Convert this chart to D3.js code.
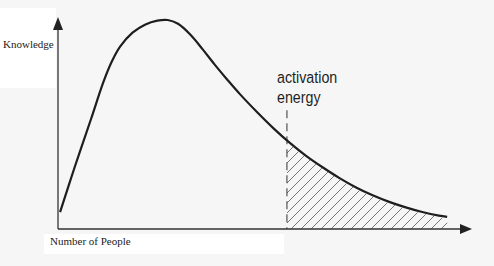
<!DOCTYPE html>
<html><head><meta charset="utf-8">
<script src="https://cdn.jsdelivr.net/npm/d3@7"></script>
<style>html,body{margin:0;padding:0;background:#f6f6f6;}svg{display:block;}</style>
</head><body>
<script>
// Data (x: people, y: knowledge)
const peopleX = [0.5,4,8,11,13,15,18,21,24,26.5,29,32,35,38,41,44,48,52,56,60,64,68,72,76,80,84,88,92,94];
const knowledgeY = [8,29,52,69.5,79,86,92.6,96.4,98.3,98.6,96.8,91.6,84.6,77.2,70.2,63.5,55.3,47.6,40.6,34.4,29.0,24.0,19.6,15.9,12.8,10.2,8.0,6.3,5.7];
const activationX = 55.3;
const activationTop = 56;
const xLabel = "Number of People";
const yLabel = "Knowledge";
const annotation = ["activation", "energy"];

const W = 494, H = 266;
const svg = d3.select("body").append("svg").attr("width", W).attr("height", H);
const x = d3.scaleLinear().domain([0, 100]).range([58, 472]);
const y = d3.scaleLinear().domain([0, 100]).range([229, 17]);

// paper patches
svg.append("rect").attr("x",0).attr("y",0).attr("width",W).attr("height",H).attr("fill","#f6f6f6");
svg.append("rect").attr("x",0).attr("y",8).attr("width",56).attr("height",80).attr("fill","#ffffff");
svg.append("rect").attr("x",44).attr("y",234).attr("width",240).attr("height",20).attr("fill","#ffffff");

const defs = svg.append("defs");
const pat = defs.append("pattern").attr("id","hatch").attr("patternUnits","userSpaceOnUse")
  .attr("width",10).attr("height",10);
pat.append("path").attr("d","M-2.5,2.5 l5,-5 M0,10 l10,-10 M7.5,12.5 l5,-5")
  .attr("stroke","#555").attr("stroke-width",0.8);
defs.append("clipPath").attr("id","beyond").append("rect")
  .attr("x", x(activationX)).attr("y", 0).attr("width", W).attr("height", y(0));

const pts = peopleX.map((v,i)=>[v, knowledgeY[i]]);
const curve = d3.curveCatmullRom.alpha(0.5);

// hatched area beyond activation threshold
const area = d3.area().x(d=>x(d[0])).y0(y(0)).y1(d=>y(d[1])+1.5).curve(curve);
svg.append("path").datum(pts).attr("d", area).attr("fill","url(#hatch)").attr("clip-path","url(#beyond)");

// axes
const axisColor = "#333";
svg.append("line").attr("x1",x(0)).attr("x2",x(100)-10).attr("y1",y(0)).attr("y2",y(0))
  .attr("stroke",axisColor).attr("stroke-width",1.3);
svg.append("line").attr("x1",x(0)).attr("x2",x(0)).attr("y1",y(0)).attr("y2",y(100)+10)
  .attr("stroke",axisColor).attr("stroke-width",1.3);
svg.append("path").attr("d",`M${x(100)},${y(0)} L${x(100)-12},${y(0)-5} L${x(100)-12},${y(0)+5}Z`).attr("fill","#222");
svg.append("path").attr("d",`M${x(0)},${y(100)} L${x(0)-5},${y(100)+13} L${x(0)+5},${y(100)+13}Z`).attr("fill","#222");

// dashed activation line
svg.append("line").attr("x1",x(activationX)).attr("x2",x(activationX)).attr("y1",y(activationTop)).attr("y2",y(0))
  .attr("stroke","#333").attr("stroke-width",1).attr("stroke-dasharray","8,5");

// curve
const line = d3.line().x(d=>x(d[0])).y(d=>y(d[1])).curve(curve);
svg.append("path").datum(pts).attr("d", line).attr("fill","none").attr("stroke","#1e1e1e").attr("stroke-width",2.2);

// labels
svg.append("text").attr("x",3).attr("y",48).text(yLabel)
  .attr("font-family","Liberation Serif, Times New Roman, serif").attr("font-size",11).attr("fill","#222");
svg.append("text").attr("x",50).attr("y",245).text(xLabel)
  .attr("font-family","Liberation Serif, Times New Roman, serif").attr("font-size",11).attr("fill","#222");
annotation.forEach((t,i)=>{
  svg.append("text").attr("transform",`translate(277,${83+i*20}) scale(0.84,1)`).text(t)
    .attr("font-family","Liberation Sans, Arial, sans-serif")
    .attr("font-size",17).attr("fill","#1f1f1f");
});
</script>
</body></html>
